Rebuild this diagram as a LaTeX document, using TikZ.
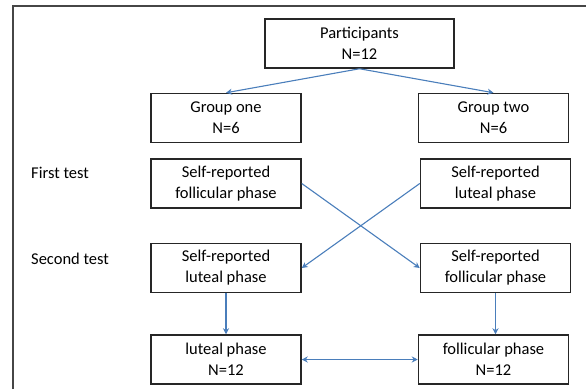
\documentclass[tikz,border=0pt]{standalone}
\usepackage{fontspec}
\setmainfont{Carlito}
\usepackage{xcolor}
\usepackage{tikz}
\usetikzlibrary{positioning, arrows.meta}

\definecolor{arrowblue}{RGB}{74,126,187}
\definecolor{framegray}{RGB}{70,70,70}

\begin{document}
\begin{tikzpicture}[
  x=1pt, y=-1pt,
  box/.style={draw=black!85, line width=1.5pt, minimum width=150pt, minimum height=49pt, inner sep=2pt, align=center, font=\fontsize{16.5}{21}\selectfont},
  arrow/.style={-{Stealth[length=6pt, width=6pt]}, line width=1.1pt, draw=arrowblue},
  twoway/.style={{Stealth[length=6pt, width=6pt]}-{Stealth[length=6pt, width=6pt]}, line width=1.1pt, draw=arrowblue},
  testlabel/.style={anchor=west, inner sep=0pt, font=\fontsize{16.5}{21}\selectfont},
]

  \useasboundingbox (0,0) rectangle (586,389);

  % Frame
  \draw[framegray, line width=1.5pt] (13,389) -- (13,6) -- (586,6);

  % Participants
  \node[box, minimum width=189pt] (participants) at (359.5,43.5) {Participants\\N=12};

  % Groups
  \node[box] (groupone) at (226,118) {Group one\\N=6};
  \node[box, right=116pt of groupone] (grouptwo) {Group two\\N=6};

  % First test
  \node[box, below=15pt of groupone] (firstleft) {Self-reported\\follicular phase};
  \node[box, right=118pt of firstleft] (firstright) {Self-reported\\luteal phase};

  % Second test
  \node[box, below=34pt of firstleft] (secondleft) {Self-reported\\luteal phase};
  \node[box, right=118pt of secondleft] (secondright) {Self-reported\\follicular phase};

  % Pooled phases
  \node[box, below=41pt of secondleft] (lutealall) {luteal phase\\N=12};
  \node[box, right=116pt of lutealall] (follicularall) {follicular phase\\N=12};

  % Row labels
  \node[testlabel] (firsttest) at (31,173) {First test};
  \node[testlabel] (secondtest) at (31,259) {Second test};

  % Arrows
  \draw[arrow] (participants.south) -- (groupone.north);
  \draw[arrow] (participants.south) -- (grouptwo.north);
  \draw[arrow] (firstleft.east) -- (secondright.west);
  \draw[arrow] (firstright.west) -- (secondleft.east);
  \draw[arrow] (secondleft.south) -- (lutealall.north);
  \draw[arrow] (secondright.south) -- (secondright.south |- follicularall.north);
  \draw[twoway] (lutealall.east) -- (follicularall.west);

\end{tikzpicture}
\end{document}
